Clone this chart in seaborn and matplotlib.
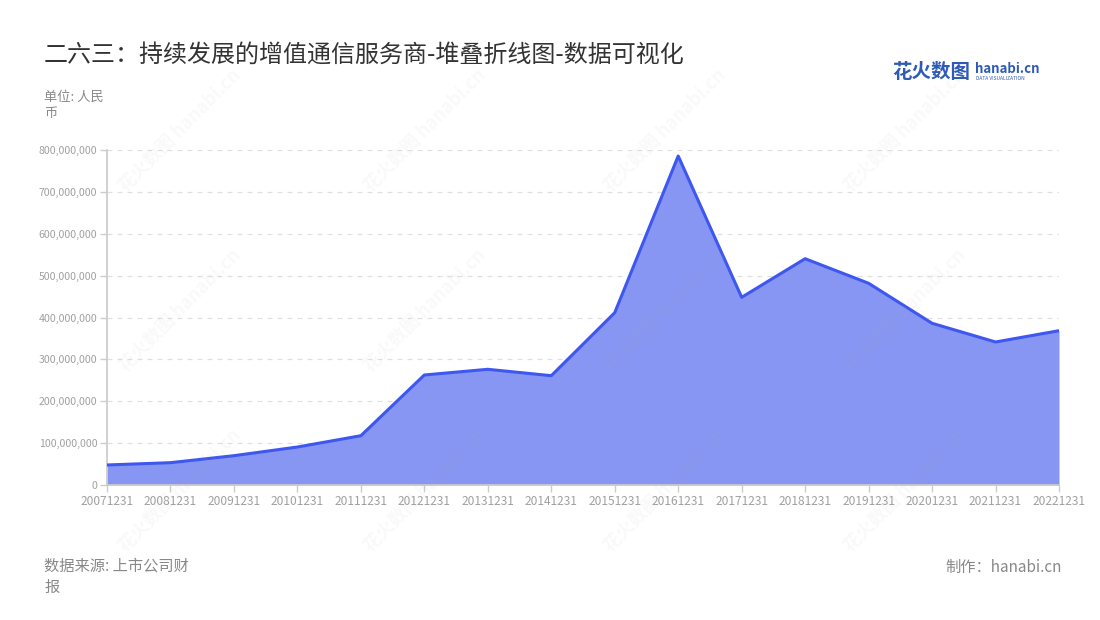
import numpy as np
import pandas as pd
import seaborn as sns
from matplotlib import pyplot as plt
from matplotlib.ticker import FuncFormatter

# data (RMB)
dates = ["20071231", "20081231", "20091231", "20101231", "20111231", "20121231",
         "20131231", "20141231", "20151231", "20161231", "20171231", "20181231",
         "20191231", "20201231", "20211231", "20221231"]
values = [47.8e6, 53.3e6, 70.0e6, 90.7e6, 117.7e6, 262.7e6,
          276.3e6, 261.0e6, 411.5e6, 785.7e6, 448.2e6, 540.4e6,
          481.7e6, 386.2e6, 341.5e6, 368.5e6]
y_ticks = [0, 100e6, 200e6, 300e6, 400e6, 500e6, 600e6, 700e6, 800e6]

df = pd.DataFrame({"idx": np.arange(len(dates)), "date": dates, "value": values})

sns.set_theme(style="white")
plt.rcParams['font.family'] = ['Noto Sans CJK SC', 'DejaVu Sans']

fig = plt.figure(figsize=(11, 6.2), dpi=100)
ax = fig.add_axes([107 / 1100, 1 - 485 / 620, (1059 - 107) / 1100, (485 - 150) / 620])

line_col = "#3D57F0"
fill_col = "#8796F2"

ax.fill_between(df["idx"], df["value"], 0, color=fill_col, linewidth=0, zorder=2)
sns.lineplot(data=df, x="idx", y="value", color=line_col, linewidth=2.2, ax=ax, zorder=3)

ax.set_xlim(0, len(dates) - 1)
ax.set_ylim(0, 800e6)
ax.set_xticks(df["idx"])
ax.set_xticklabels(dates)
ax.set_yticks(y_ticks)
ax.yaxis.set_major_formatter(FuncFormatter(lambda v, p: f"{int(v):,}"))
ax.set_xlabel("")
ax.set_ylabel("")

ax.grid(axis="y", color="#e0e0e0", linestyle=(0, (4, 4)), linewidth=0.9, zorder=0)
ax.grid(axis="x", visible=False)
for s in ["top", "right"]:
    ax.spines[s].set_visible(False)
ax.spines["left"].set_color("#cccccc")
ax.spines["bottom"].set_color("#cccccc")
ax.tick_params(axis="both", colors="#cccccc", length=5, width=1, labelcolor="#a0a0a0",
               pad=2, left=True, bottom=True)
ax.tick_params(axis="x", labelsize=8.6)
ax.tick_params(axis="y", labelsize=7.6)

# watermarks
for wx in [180, 425, 665, 905]:
    for wy in [130, 310, 490]:
        fig.text(wx / 1100, 1 - wy / 620, "花火数图 hanabi.cn", rotation=45, fontsize=13,
                 color="#aaaaaa", alpha=0.07, ha="center", va="center", fontweight="bold")

fig.text(44 / 1100, 1 - 55 / 620, "二六三：持续发展的增值通信服务商-堆叠折线图-数据可视化",
         fontsize=17.3, color="#333333", ha="left", va="center")
fig.text(44 / 1100, 1 - 105 / 620, "单位: 人民\n币", fontsize=9.5, color="#888888",
         ha="left", va="center", linespacing=1.3)
fig.text(44 / 1100, 1 - 577 / 620, "数据来源: 上市公司财\n报", fontsize=11, color="#888888",
         ha="left", va="center", linespacing=1.3)
fig.text(1062 / 1100, 1 - 567 / 620, "制作：hanabi.cn", fontsize=11, color="#888888",
         ha="right", va="center")

# logo
fig.text(892 / 1100, 1 - 72 / 620, "花火数图", fontsize=14, color="#2F5BB7",
         ha="left", va="center", fontweight="bold")
fig.text(975 / 1100, 1 - 69 / 620, "hanabi.cn", fontsize=9.5, color="#2F5BB7",
         ha="left", va="center", fontweight="bold")
fig.text(976 / 1100, 1 - 79 / 620, "DATA VISUALIZATION", fontsize=3.5, color="#2F5BB7",
         ha="left", va="center")

fig.savefig("out.png", dpi=100)
